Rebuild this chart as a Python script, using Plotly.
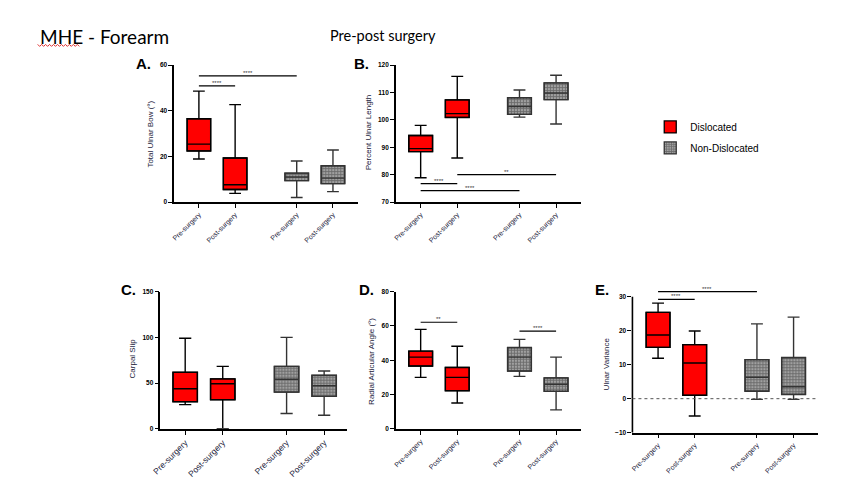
import plotly.graph_objects as go

W, H = 863, 481

positions = [1, 2, 3.7, 4.7]
labels = ["Pre-surgery", "Post-surgery", "Pre-surgery", "Post-surgery"]

# Panel A - Total Ulnar Bow
A_low = [18.9, 3.8, 2.0, 4.6]
A_q1 = [22.4, 5.5, 9.4, 8.1]
A_med = [25.4, 7.6, 11.0, 10.5]
A_q3 = [36.5, 19.3, 12.7, 15.9]
A_high = [48.6, 42.7, 18.0, 22.8]
# Panel B - Percent Ulnar Length
B_low = [78.9, 86.1, 101.0, 98.5]
B_q1 = [88.4, 100.9, 102.0, 107.4]
B_med = [89.5, 102.3, 104.9, 109.8]
B_q3 = [94.3, 107.3, 108.1, 113.5]
B_high = [98.0, 115.9, 110.9, 116.3]
# Panel C - Carpal Slip
C_low = [26.4, 0.0, 16.6, 14.8]
C_q1 = [29.6, 31.8, 40.1, 35.4]
C_med = [43.7, 49.2, 54.2, 47.0]
C_q3 = [61.8, 54.6, 68.3, 58.5]
C_high = [99.0, 68.3, 100.0, 63.2]
# Panel D - Radial Articular Angle
D_low = [30.0, 15.0, 30.6, 11.0]
D_q1 = [36.6, 22.2, 33.7, 21.8]
D_med = [41.8, 30.0, 41.8, 26.0]
D_q3 = [45.3, 35.8, 47.4, 29.7]
D_high = [58.0, 48.2, 52.2, 41.8]
# Panel E - Ulnar Variance
E_low = [11.9, -5.1, -0.2, -0.2]
E_q1 = [15.1, 1.0, 2.2, 1.25]
E_med = [18.75, 10.5, 6.3, 3.5]
E_q3 = [25.4, 15.9, 11.5, 12.1]
E_high = [28.1, 19.9, 22.0, 24.0]

# significance brackets: (from category index, to category index, y value, label)
A_sig = [(0, 1, 50.9, "****"), (0, 2, 55.3, "****")]
B_sig = [(0, 1, 76.7, "****"), (0, 2, 74.2, "****"), (1, 3, 80.0, "**")]
C_sig = []
D_sig = [(0, 1, 62.2, "**"), (2, 3, 57.0, "****")]
E_sig = [(0, 1, 29.2, "****"), (0, 2, 31.5, "****")]

panels = [
    dict(key="A", data=(A_low, A_q1, A_med, A_q3, A_high), sig=A_sig,
         xpx=(167, 353), ypx=(62, 201), yr=[0, 60], xr=[0.32, 5.4],
         ytick=[0, 20, 40, 60], title="Total Ulnar Bow (°)", tpos=(143, 132),
         lpos=(136, 60), small=True),
    dict(key="B", data=(B_low, B_q1, B_med, B_q3, B_high), sig=B_sig,
         xpx=(391, 578), ypx=(62, 201), yr=[70, 120], xr=[0.324, 5.38],
         ytick=[70, 80, 90, 100, 110, 120], title="Percent Ulnar Length", tpos=(363, 130),
         lpos=(356, 60), small=True),
    dict(key="C", data=(C_low, C_q1, C_med, C_q3, C_high), sig=C_sig,
         xpx=(153, 342), ypx=(292, 431), yr=[0, 150], xr=[0.34, 5.32],
         ytick=[0, 50, 100, 150], title="Carpal Slip", tpos=(125, 360),
         lpos=(121, 290), small=False),
    dict(key="D", data=(D_low, D_q1, D_med, D_q3, D_high), sig=D_sig,
         xpx=(391, 578), ypx=(292, 431), yr=[0, 80], xr=[0.324, 5.38],
         ytick=[0, 20, 40, 60, 80], title="Radial Articular Angle (°)", tpos=(367, 363),
         lpos=(361, 290), small=True),
    dict(key="E", data=(E_low, E_q1, E_med, E_q3, E_high), sig=E_sig,
         xpx=(630, 818), ypx=(288.4, 435), yr=[-10, 32.5], xr=[0.30, 5.38],
         ytick=[-10, 0, 10, 20, 30], title="Ulnar Variance", tpos=(604, 365),
         lpos=(599, 290), small=True),
]

FONT = "Arial, Liberation Sans, sans-serif"
TXT = "#1a1a3a"
RED = "#ff0000"
GREYLINE = "#333333"


def px_x(p):
    return p / W


def px_y(p):
    return 1 - p / H


fig = go.Figure()
layout = dict(
    width=W, height=H, margin=dict(l=0, r=0, t=0, b=0),
    paper_bgcolor="white", plot_bgcolor="white",
    font=dict(family=FONT, color="black"),
    barmode="overlay", boxmode="overlay",
    showlegend=True,
    legend=dict(x=px_x(648), y=px_y(110), xanchor="left", yanchor="top",
                font=dict(size=10, family=FONT, color="black"),
                itemwidth=30, tracegroupgap=2, bgcolor="rgba(0,0,0,0)"),
)
annotations = []
shapes = []

for i, p in enumerate(panels):
    n = "" if i == 0 else str(i + 1)
    xa, ya = "x" + n, "y" + n
    low, q1, med, q3, high = p["data"]
    groups = [(slice(0, 2), "Dislocated", RED, "black"),
              (slice(2, 4), "Non-Dislocated", "#707070", GREYLINE)]
    for sl, name, fill, lc in groups:
        xs = positions[sl]
        base = q1[sl]
        height = [b - a for a, b in zip(q1[sl], q3[sl])]
        marker = dict(color=fill, line=dict(color=lc, width=1.3))
        if name == "Non-Dislocated":
            marker["pattern"] = dict(shape="+", fgcolor="#333333", bgcolor="#a0a0a0",
                                     size=3, solidity=0.5, fillmode="overlay")
        fig.add_trace(go.Bar(x=xs, y=height, base=base, width=0.65, marker=marker,
                             name=name, showlegend=(i == 0), legendgroup=name,
                             xaxis=xa, yaxis=ya, hoverinfo="skip"))
        fig.add_trace(go.Box(x=xs, q1=q1[sl], median=med[sl], q3=q3[sl],
                             lowerfence=low[sl], upperfence=high[sl],
                             orientation="v", width=0.65, whiskerwidth=0.5,
                             fillcolor="rgba(0,0,0,0)", line=dict(color=lc, width=1.4),
                             boxpoints=False, showlegend=False, legendgroup=name,
                             xaxis=xa, yaxis=ya, hoverinfo="skip"))

    showline_y = p["key"] != "E"
    layout["xaxis" + n] = dict(
        domain=[px_x(p["xpx"][0]), px_x(p["xpx"][1])], range=p["xr"],
        anchor=ya, showgrid=False, zeroline=False, showline=True,
        linecolor="black", linewidth=1.6, ticks="outside", ticklen=4,
        tickwidth=1.3, tickcolor="black", tickmode="array",
        tickvals=positions, ticktext=labels, tickangle=-45,
        tickfont=dict(size=7 if p["small"] else 8.5, color=TXT, family=FONT),
        fixedrange=True)
    layout["yaxis" + n] = dict(
        domain=[px_y(p["ypx"][1]), px_y(p["ypx"][0])], range=p["yr"],
        anchor=xa, showgrid=False, zeroline=False, showline=showline_y,
        linecolor="black", linewidth=1.6, ticks="outside", ticklen=4,
        tickwidth=1.3, tickcolor="black", tickmode="array", tickvals=p["ytick"],
        tickfont=dict(size=6.5, color="black", family=FONT, weight="bold"), fixedrange=True)

    if not showline_y:
        shapes.append(dict(type="line", xref=xa + " domain", yref=ya, x0=0, x1=0,
                           y0=p["ytick"][0], y1=p["ytick"][-1],
                           line=dict(color="black", width=1.6)))
        shapes.append(dict(type="line", xref=xa + " domain", yref=ya, x0=0, x1=0.985,
                           y0=0, y1=0, line=dict(color="#555555", width=1, dash="3px,3px")))

    # y-axis title
    annotations.append(dict(text=p["title"], x=px_x(p["tpos"][0]), y=px_y(p["tpos"][1]),
                            xref="paper", yref="paper", showarrow=False, textangle=-90,
                            font=dict(size=8, color=TXT, family=FONT),
                            xanchor="center", yanchor="middle"))
    # panel letter
    annotations.append(dict(text="<b>" + p["key"] + ".</b>", x=px_x(p["lpos"][0]),
                            y=px_y(p["lpos"][1]), xref="paper", yref="paper",
                            showarrow=False, font=dict(size=15, color="black", family=FONT),
                            xanchor="center", yanchor="middle"))
    # significance brackets
    for a, b, yv, lab in p["sig"]:
        shapes.append(dict(type="line", xref=xa, yref=ya, x0=positions[a], x1=positions[b],
                           y0=yv, y1=yv, line=dict(color="black", width=1.2)))
        annotations.append(dict(text=lab, x=(positions[a] + positions[b]) / 2, y=yv,
                                xref=xa, yref=ya, showarrow=False, yanchor="bottom",
                                yshift=-1, borderpad=0,
                                font=dict(size=6, color="#333333", family=FONT)))

# page titles
annotations.append(dict(text="MHE - Forearm", x=px_x(29), y=px_y(33), xref="paper",
                        yref="paper", showarrow=False, xanchor="left", yanchor="middle",
                        font=dict(size=19, color="black", family="Lato, Carlito, sans-serif")))
annotations.append(dict(text="Pre-post surgery", x=px_x(322), y=px_y(32), xref="paper",
                        yref="paper", showarrow=False, xanchor="left", yanchor="middle",
                        font=dict(size=14.5, color="black", family="Lato, Carlito, sans-serif")))
# spell-check squiggle under "MHE"
pts = []
xx = 29.0
k = 0
while xx <= 71:
    yy = 41.0 if k % 2 == 0 else 43.0
    pts.append((px_x(xx), px_y(yy)))
    xx += 2
    k += 1
path = "M " + " L ".join(f"{a:.5f},{b:.5f}" for a, b in pts)
shapes.append(dict(type="path", xref="paper", yref="paper", path=path,
                   line=dict(color="#e03030", width=1)))

layout["annotations"] = annotations
layout["shapes"] = shapes
fig.update_layout(**layout)
fig.write_html("out.html")
